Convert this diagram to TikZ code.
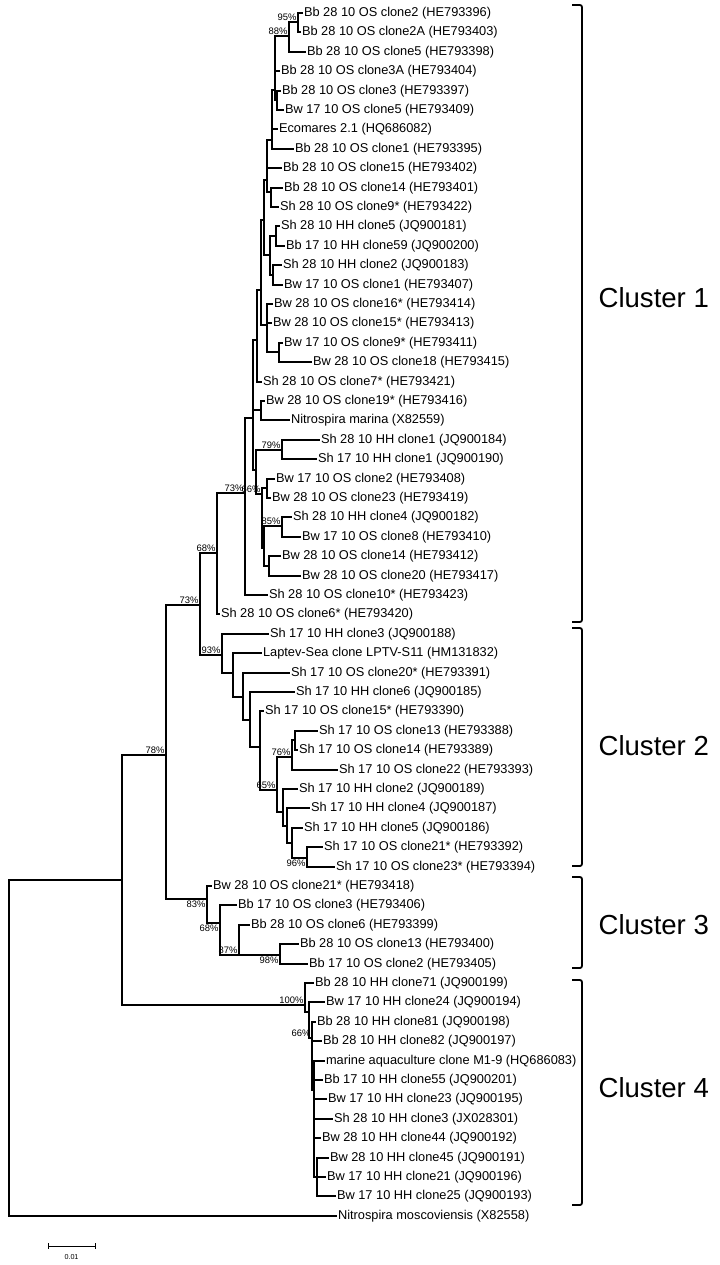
\documentclass[tikz,border=0pt]{standalone}
\usepackage{fontspec}
\setmainfont{Liberation Sans}

\begin{document}
\begin{tikzpicture}[x=0.025cm, y=-0.025cm, line width=0.9pt, line cap=rect,
  leaf/.style={anchor=west, inner sep=1pt, font=\fontsize{9.1}{10}\selectfont},
  boot/.style={anchor=south east, inner sep=0.6pt, font=\fontsize{6.7}{7}\selectfont},
  bootb/.style={boot, anchor=north east},
  clu/.style={anchor=west, inner sep=0pt, font=\fontsize{19.6}{22}\selectfont},
  brk/.style={line width=1.3pt, rounded corners=1.5pt}]
\useasboundingbox (0,0) rectangle (720,1265);

\node[leaf] (l1)  at (302,13)   {Bb 28 10 OS clone2 (HE793396)};
\node[leaf] (l2)  at (300,32)   {Bb 28 10 OS clone2A (HE793403)};
\node[leaf] (l3)  at (305,52)   {Bb 28 10 OS clone5 (HE793398)};
\node[leaf] (l4)  at (279,71)   {Bb 28 10 OS clone3A (HE793404)};
\node[leaf] (l5)  at (280,91)   {Bb 28 10 OS clone3 (HE793397)};
\node[leaf] (l6)  at (283,110)  {Bw 17 10 OS clone5 (HE793409)};
\node[leaf] (l7)  at (277,129)  {Ecomares 2.1 (HQ686082)};
\node[leaf] (l8)  at (293,149)  {Bb 28 10 OS clone1 (HE793395)};
\node[leaf] (l9)  at (281,168)  {Bb 28 10 OS clone15 (HE793402)};
\node[leaf] (l10) at (282,188)  {Bb 28 10 OS clone14 (HE793401)};
\node[leaf] (l11) at (278,207)  {Sh 28 10 OS clone9* (HE793422)};
\node[leaf] (l12) at (279,226)  {Sh 28 10 HH clone5 (JQ900181)};
\node[leaf] (l13) at (284,246)  {Bb 17 10 HH clone59 (JQ900200)};
\node[leaf] (l14) at (281,265)  {Sh 28 10 HH clone2 (JQ900183)};
\node[leaf] (l15) at (282,285)  {Bw 17 10 OS clone1 (HE793407)};
\node[leaf] (l16) at (272,304)  {Bw 28 10 OS clone16* (HE793414)};
\node[leaf] (l17) at (271,323)  {Bw 28 10 OS clone15* (HE793413)};
\node[leaf] (l18) at (282,343)  {Bw 17 10 OS clone9* (HE793411)};
\node[leaf] (l19) at (311,362)  {Bw 28 10 OS clone18 (HE793415)};
\node[leaf] (l20) at (261,382)  {Sh 28 10 OS clone7* (HE793421)};
\node[leaf] (l21) at (264,401)  {Bw 28 10 OS clone19* (HE793416)};
\node[leaf] (l22) at (289,420)  {Nitrospira marina (X82559)};
\node[leaf] (l23) at (319,440)  {Sh 28 10 HH clone1 (JQ900184)};
\node[leaf] (l24) at (316,459)  {Sh 17 10 HH clone1 (JQ900190)};
\node[leaf] (l25) at (274,479)  {Bw 17 10 OS clone2 (HE793408)};
\node[leaf] (l26) at (270,498)  {Bw 28 10 OS clone23 (HE793419)};
\node[leaf] (l27) at (291,517)  {Sh 28 10 HH clone4 (JQ900182)};
\node[leaf] (l28) at (300,537)  {Bw 17 10 OS clone8 (HE793410)};
\node[leaf] (l29) at (280,556)  {Bw 28 10 OS clone14 (HE793412)};
\node[leaf] (l30) at (300,576)  {Bw 28 10 OS clone20 (HE793417)};
\node[leaf] (l31) at (267,595)  {Sh 28 10 OS clone10* (HE793423)};
\node[leaf] (l32) at (219,614)  {Sh 28 10 OS clone6* (HE793420)};
\node[leaf] (l33) at (268,634)  {Sh 17 10 HH clone3 (JQ900188)};
\node[leaf] (l34) at (261,653)  {Laptev-Sea clone LPTV-S11 (HM131832)};
\node[leaf] (l35) at (289,673)  {Sh 17 10 OS clone20* (HE793391)};
\node[leaf] (l36) at (294,692)  {Sh 17 10 HH clone6 (JQ900185)};
\node[leaf] (l37) at (263,711)  {Sh 17 10 OS clone15* (HE793390)};
\node[leaf] (l38) at (317,731)  {Sh 17 10 OS clone13 (HE793388)};
\node[leaf] (l39) at (297,750)  {Sh 17 10 OS clone14 (HE793389)};
\node[leaf] (l40) at (337,770)  {Sh 17 10 OS clone22 (HE793393)};
\node[leaf] (l41) at (297,789)  {Sh 17 10 HH clone2 (JQ900189)};
\node[leaf] (l42) at (309,808)  {Sh 17 10 HH clone4 (JQ900187)};
\node[leaf] (l43) at (302,828)  {Sh 17 10 HH clone5 (JQ900186)};
\node[leaf] (l44) at (322,847)  {Sh 17 10 OS clone21* (HE793392)};
\node[leaf] (l45) at (334,867)  {Sh 17 10 OS clone23* (HE793394)};
\node[leaf] (l46) at (211,886)  {Bw 28 10 OS clone21* (HE793418)};
\node[leaf] (l47) at (236,905)  {Bb 17 10 OS clone3 (HE793406)};
\node[leaf] (l48) at (249,925)  {Bb 28 10 OS clone6 (HE793399)};
\node[leaf] (l49) at (298,944)  {Bb 28 10 OS clone13 (HE793400)};
\node[leaf] (l50) at (307,964)  {Bb 17 10 OS clone2 (HE793405)};
\node[leaf] (l51) at (313,983)  {Bb 28 10 HH clone71 (JQ900199)};
\node[leaf] (l52) at (324,1002) {Bw 17 10 HH clone24 (JQ900194)};
\node[leaf] (l53) at (315,1022) {Bb 28 10 HH clone81 (JQ900198)};
\node[leaf] (l54) at (321,1041) {Bb 28 10 HH clone82 (JQ900197)};
\node[leaf] (l55) at (324,1061) {marine aquaculture clone M1-9 (HQ686083)};
\node[leaf] (l56) at (322,1080) {Bb 17 10 HH clone55 (JQ900201)};
\node[leaf] (l57) at (326,1099) {Bw 17 10 HH clone23 (JQ900195)};
\node[leaf] (l58) at (332,1119) {Sh 28 10 HH clone3 (JX028301)};
\node[leaf] (l59) at (320,1138) {Bw 28 10 HH clone44 (JQ900192)};
\node[leaf] (l60) at (328,1158) {Bw 28 10 HH clone45 (JQ900191)};
\node[leaf] (l61) at (325,1177) {Bw 17 10 HH clone21 (JQ900196)};
\node[leaf] (l62) at (335,1196) {Bw 17 10 HH clone25 (JQ900193)};
\node[leaf] (l63) at (336,1216) {Nitrospira moscoviensis (X82558)};

\coordinate (n95)   at (298,22);
\coordinate (n88)   at (289,36);
\coordinate (n56)   at (277,100);
\coordinate (na1)   at (275,90);
\coordinate (na2)   at (272,140);
\coordinate (n1011) at (271,192);
\coordinate (na3)   at (267,180);
\coordinate (n1213) at (276,236);
\coordinate (n1415) at (273,275);
\coordinate (n1215) at (270,255);
\coordinate (na4)   at (264,220);
\coordinate (n1819) at (279,352);
\coordinate (n1619) at (267,325);
\coordinate (na5)   at (261,290);
\coordinate (na6)   at (257,340);
\coordinate (n2122) at (261,410);
\coordinate (n79)   at (282,450);
\coordinate (n2526) at (267,488);
\coordinate (n85)   at (282,526);
\coordinate (n2930) at (269,566);
\coordinate (n2730) at (264,548);
\coordinate (n66)   at (262,494);
\coordinate (ng2)   at (256,470);
\coordinate (ne)    at (253,418);
\coordinate (nd)    at (245,493);
\coordinate (nc)    at (217,553);
\coordinate (nb)    at (200,605);
\coordinate (n93)   at (222,655);
\coordinate (nc2)   at (233,673);
\coordinate (nc3)   at (243,697);
\coordinate (nc4)   at (250,720);
\coordinate (nc5)   at (260,747);
\coordinate (n65)   at (277,790);
\coordinate (n76)   at (292,757);
\coordinate (n3839) at (295,740);
\coordinate (nl1)   at (283,812);
\coordinate (nl2)   at (287,826);
\coordinate (nl3)   at (292,843);
\coordinate (n96)   at (307,858);
\coordinate (n78)   at (166,755);
\coordinate (n83)   at (207,899);
\coordinate (n68)   at (220,923);
\coordinate (n87)   at (239,955);
\coordinate (n98)   at (280,955);
\coordinate (n122)  at (122,880);
\coordinate (n100)  at (305,1005);
\coordinate (n4a)   at (309,1012);
\coordinate (n4b)   at (312,1038);
\coordinate (n4c)   at (314,1090);
\coordinate (n4d)   at (317,1177);
\coordinate (root)  at (9,1048);

\draw (n95) |- (l1.west) (n95) |- (l2.west);
\draw (n88) |- (n95) (n88) |- (l3.west);
\draw (n56) |- (l5.west) (n56) |- (l6.west);
\draw (na1) |- (n88) (na1) |- (l4.west) (na1) |- (n56);
\draw (na2) |- (na1) (na2) |- (l7.west) (na2) |- (l8.west);
\draw (n1011) |- (l10.west) (n1011) |- (l11.west);
\draw (na3) |- (na2) (na3) |- (l9.west) (na3) |- (n1011);
\draw (n1213) |- (l12.west) (n1213) |- (l13.west);
\draw (n1415) |- (l14.west) (n1415) |- (l15.west);
\draw (n1215) |- (n1213) (n1215) |- (n1415);
\draw (na4) |- (na3) (na4) |- (n1215);
\draw (n1819) |- (l18.west) (n1819) |- (l19.west);
\draw (n1619) |- (l16.west) (n1619) |- (l17.west) (n1619) |- (n1819);
\draw (na5) |- (na4) (na5) |- (n1619);
\draw (na6) |- (na5) (na6) |- (l20.west);
\draw (n2122) |- (l21.west) (n2122) |- (l22.west);
\draw (n79) |- (l23.west) (n79) |- (l24.west);
\draw (n2526) |- (l25.west) (n2526) |- (l26.west);
\draw (n85) |- (l27.west) (n85) |- (l28.west);
\draw (n2930) |- (l29.west) (n2930) |- (l30.west);
\draw (n2730) |- (n85) (n2730) |- (n2930);
\draw (n66) |- (n2526) (n66) |- (n2730);
\draw (ng2) |- (n79) (ng2) |- (n66);
\draw (ne) |- (na6) (ne) |- (n2122) (ne) |- (ng2);
\draw (nd) |- (ne) (nd) |- (l31.west);
\draw (nc) |- (nd) (nc) |- (l32.west);
\draw (nb) |- (nc) (nb) |- (n93);
\draw (n93) |- (l33.west) (n93) |- (nc2);
\draw (nc2) |- (l34.west) (nc2) |- (nc3);
\draw (nc3) |- (l35.west) (nc3) |- (nc4);
\draw (nc4) |- (l36.west) (nc4) |- (nc5);
\draw (nc5) |- (l37.west) (nc5) |- (n65);
\draw (n3839) |- (l38.west) (n3839) |- (l39.west);
\draw (n76) |- (n3839) (n76) |- (l40.west);
\draw (n96) |- (l44.west) (n96) |- (l45.west);
\draw (nl3) |- (l43.west) (nl3) |- (n96);
\draw (nl2) |- (l42.west) (nl2) |- (nl3);
\draw (nl1) |- (l41.west) (nl1) |- (nl2);
\draw (n65) |- (n76) (n65) |- (nl1);
\draw (n98) |- (l49.west) (n98) |- (l50.west);
\draw (n87) |- (l48.west) (n87) |- (n98);
\draw (n68) |- (l47.west) (n68) |- (n87);
\draw (n83) |- (l46.west) (n83) |- (n68);
\draw (n78) |- (nb) (n78) |- (n83);
\draw (n4d) |- (l60.west) (n4d) |- (l61.west) (n4d) |- (l62.west);
\draw (n4c) |- (l55.west) (n4c) |- (l56.west) (n4c) |- (l57.west) (n4c) |- (l58.west) (n4c) |- (l59.west) (n4c) |- (n4d);
\draw (n4b) |- (l53.west) (n4b) |- (l54.west) (n4b) |- (n4c);
\draw (n4a) |- (l52.west) (n4a) |- (n4b);
\draw (n100) |- (l51.west) (n100) |- (n4a);
\draw (n122) |- (n78) (n122) |- (n100);
\draw (root) |- (n122) (root) |- (l63.west);

\node[boot]  (b95)  at (n95)  {95\%};
\node[boot]  (b88)  at (n88)  {88\%};
\node[boot]  (b79)  at (n79)  {79\%};
\node[boot]  (b66)  at (n66)  {66\%};
\node[boot]  (b73a) at (nd)   {73\%};
\node[boot]  (b85)  at (n85)  {85\%};
\node[boot]  (b68a) at (nc)   {68\%};
\node[boot]  (b73b) at (nb)   {73\%};
\node[boot]  (b93)  at (n93)  {93\%};
\node[boot]  (b78)  at (n78)  {78\%};
\node[boot]  (b76)  at (n76)  {76\%};
\node[boot]  (b65)  at (n65)  {65\%};
\node[bootb] (b96)  at (n96)  {96\%};
\node[bootb] (b83)  at (n83)  {83\%};
\node[bootb] (b68b) at (n68)  {68\%};
\node[boot]  (b87)  at (n87)  {87\%};
\node[bootb] (b98)  at (n98)  {98\%};
\node[boot]  (b100) at (n100) {100\%};
\node[boot]  (b66b) at (n4b)  {66\%};

\draw[brk] (573,5) -- (582,5) -- (582,622) -- (573,622);
\draw[brk] (573,628) -- (582,628) -- (582,866) -- (573,866);
\draw[brk] (573,877) -- (582,877) -- (582,968) -- (573,968);
\draw[brk] (573,980) -- (582,980) -- (582,1205) -- (573,1205);
\node[clu] (c1) at (598,298)  {Cluster 1};
\node[clu] (c2) at (598,746)  {Cluster 2};
\node[clu] (c3) at (598,925)  {Cluster 3};
\node[clu] (c4) at (598,1088) {Cluster 4};

\coordinate (s0) at (48,1246);
\coordinate (s1) at (95,1246);
\draw[line width=0.7pt] (s0) -- (s1) ([yshift=2pt]s0) -- ([yshift=-2pt]s0) ([yshift=2pt]s1) -- ([yshift=-2pt]s1);
\node[font=\fontsize{5.1}{6}\selectfont, inner sep=0pt] (sl) at (71.5,1257) {0.01};
\end{tikzpicture}
\end{document}
